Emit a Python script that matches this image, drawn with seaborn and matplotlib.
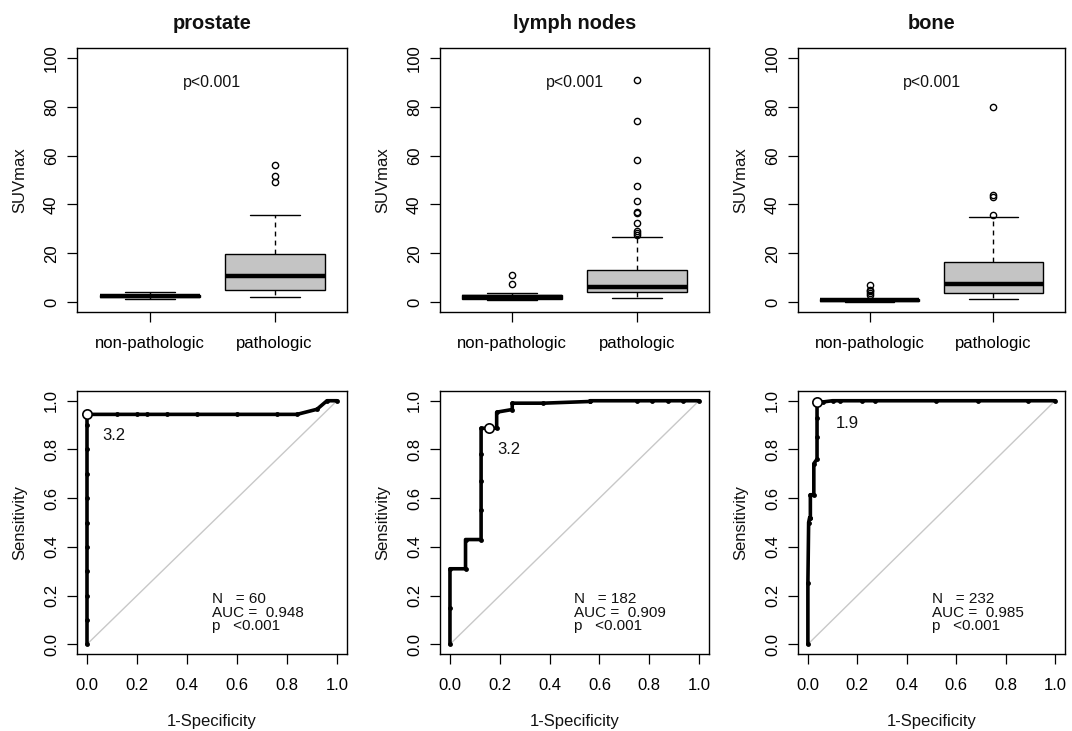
import numpy as np
import pandas as pd
import matplotlib
matplotlib.use("Agg")
import matplotlib.pyplot as plt
import seaborn as sns

# ---------------- data ----------------
sites = ["prostate", "lymph nodes", "bone"]
groups = ["non-pathologic", "pathologic"]

# SUVmax samples (representative values)
prostate_nonpath = [1.5, 1.7, 1.8, 1.9, 2.0, 2.2, 2.3, 2.4, 2.5, 2.6, 2.7, 2.8, 3.0, 3.1, 3.2, 3.3, 4.3]
prostate_path = [2.0, 3.0, 3.8, 4.5, 5.0, 6.5, 7.5, 9.0, 10.8, 12.0, 14.0, 17.0, 19.6, 35.7, 49.0, 51.5, 56.0]
lymph_nonpath = [0.8, 1.0, 1.2, 1.3, 1.4, 1.6, 1.7, 1.8, 2.0, 2.1, 2.3, 2.5, 2.8, 3.2, 3.6, 7.5, 11.2]
lymph_path = [1.9, 2.0, 2.2, 2.4, 2.6, 2.8, 3.0, 3.2, 3.4, 3.5, 3.7, 3.9, 4.0,
              4.2, 4.4, 4.6, 4.8, 5.0, 5.2, 5.4, 5.6, 5.8, 6.0, 6.2, 6.4,
              6.8, 7.2, 7.7, 8.2, 8.8, 9.4, 10.0, 10.8, 11.5, 12.2, 12.8, 13.2,
              26.6, 27.5, 28.2, 29.2, 32.6, 36.4, 37.1, 41.4, 47.5, 58.2, 74.1, 90.9]
bone_nonpath = [0.2, 0.3, 0.4, 0.45, 0.5, 0.55, 0.7, 0.8, 0.85, 0.9, 1.0, 1.05, 1.1, 1.2, 1.3, 1.5, 3.0, 3.7, 4.4, 5.2, 7.1]
bone_path = [1.4, 2.0, 2.6, 3.0, 3.4, 3.7, 4.5, 5.5, 6.3, 7.0, 7.5, 9.0, 11.0, 13.0, 15.0, 16.3, 34.7, 35.5, 43.2, 43.9, 80.0]

# ROC curves (1-specificity, sensitivity)
roc_prostate_fpr = [0.0, 0.0, 0.0, 0.0, 0.0, 0.0, 0.0, 0.0, 0.0, 0.0, 0.0,
                    0.12, 0.2, 0.24, 0.32, 0.44, 0.6, 0.76, 0.84, 0.92, 0.96, 1.0]
roc_prostate_tpr = [0.0, 0.1, 0.2, 0.3, 0.4, 0.5, 0.6, 0.7, 0.8, 0.9, 0.944,
                    0.944, 0.944, 0.944, 0.944, 0.944, 0.944, 0.944, 0.944, 0.965, 1.0, 1.0]
roc_lymph_fpr = [0.0, 0.0, 0.0, 0.0625, 0.0625, 0.125, 0.125, 0.125, 0.125, 0.125, 0.1875,
                 0.1875, 0.25, 0.25, 0.375, 0.5625, 0.5625, 0.75, 0.8125, 0.875, 0.9375, 1.0]
roc_lymph_tpr = [0.0, 0.15, 0.31, 0.31, 0.43, 0.43, 0.55, 0.67, 0.78, 0.887, 0.887,
                 0.953, 0.964, 0.99, 0.99, 0.997, 1.0, 1.0, 1.0, 1.0, 1.0, 1.0]
roc_bone_fpr = [0.0, 0.0, 0.003, 0.007, 0.01, 0.01, 0.024, 0.024, 0.037, 0.037, 0.037,
                0.037, 0.06, 0.1, 0.13, 0.22, 0.27, 0.52, 0.69, 0.89, 1.0]
roc_bone_tpr = [0.0, 0.25, 0.5, 0.52, 0.52, 0.614, 0.614, 0.742, 0.76, 0.85, 0.93,
                0.995, 0.995, 1.0, 1.0, 1.0, 1.0, 1.0, 1.0, 1.0, 1.0]

# optimal cut-off points
opt_fpr = [0.0, 0.155, 0.037]
opt_tpr = [0.944, 0.887, 0.995]
opt_labels = ["3.2", "3.2", "1.9"]

n_values = [60, 182, 232]
auc_values = [0.948, 0.909, 0.985]
p_label = "p<0.001"

box_data = [(prostate_nonpath, prostate_path),
            (lymph_nonpath, lymph_path),
            (bone_nonpath, bone_path)]
roc_data = [(roc_prostate_fpr, roc_prostate_tpr),
            (roc_lymph_fpr, roc_lymph_tpr),
            (roc_bone_fpr, roc_bone_tpr)]

# ---------------- style ----------------
sns.set_style("ticks")
plt.rcParams["font.family"] = ["Liberation Sans", "DejaVu Sans"]
plt.rcParams.update({
    "axes.edgecolor": "black",
    "axes.linewidth": 1.0,
    "xtick.color": "black",
    "ytick.color": "black",
    "xtick.major.size": 7,
    "ytick.major.size": 7,
    "xtick.major.width": 0.9,
    "ytick.major.width": 0.9,
    "xtick.major.pad": 10.5,
    "ytick.major.pad": 6,
    "xtick.labelsize": 12,
    "ytick.labelsize": 12,
    "axes.labelsize": 12,
    "text.color": "#111111",
    "axes.labelcolor": "#111111",
})

fig = plt.figure(figsize=(10.72, 7.31), dpi=100)

col_left = [77, 440, 798]
col_width = [270, 269, 267]
W, H = 1072, 731
top_axes = []
bot_axes = []
for i in range(3):
    l = col_left[i] / W
    w = col_width[i] / W
    top_axes.append(fig.add_axes([l, 1 - 312 / H, w, 264 / H]))
    bot_axes.append(fig.add_axes([l, 1 - 654 / H, w, 263 / H]))

# ---------------- box plots ----------------
for i, ax in enumerate(top_axes):
    nonpath, path = box_data[i]
    df = pd.DataFrame({
        "group": [groups[0]] * len(nonpath) + [groups[1]] * len(path),
        "SUVmax": list(nonpath) + list(path),
    })
    sns.boxplot(data=df, x="group", y="SUVmax", order=groups, ax=ax,
                color="#c4c4c4", width=0.8, linewidth=1.0, linecolor="black",
                whis=1.5, saturation=1,
                capwidths=0.4,
                medianprops=dict(linewidth=3.2, color="black"),
                whiskerprops=dict(linestyle=(0, (3.5, 3)), linewidth=1.0),
                capprops=dict(linewidth=1.0),
                flierprops=dict(marker="o", markerfacecolor="none",
                                markeredgecolor="black", markersize=4.5,
                                markeredgewidth=1.0))
    ax.set_xlim(-0.58, 1.58)
    ax.set_ylim(-4, 104)
    ax.set_yticks([0, 20, 40, 60, 80, 100])
    ax.set_yticklabels(["0", "20", "40", "60", "80", "100"], rotation=90, va="center")
    ax.set_xlabel("")
    ax.set_ylabel("SUVmax", labelpad=12)
    ax.set_title(sites[i], fontsize=14.4, fontweight="bold", pad=14)
    ax.text(0.5, 90, p_label, ha="center", va="center", fontsize=11.5)
    for s in ax.spines.values():
        s.set_visible(True)

# ---------------- ROC curves ----------------
for i, ax in enumerate(bot_axes):
    fpr, tpr = roc_data[i]
    sns.lineplot(x=[0, 1], y=[0, 1], ax=ax, color="#c8c8c8", linewidth=1.0)
    sns.lineplot(x=fpr, y=tpr, ax=ax, sort=False, estimator=None,
                 color="black", linewidth=2.6, marker="o", markersize=3.5,
                 markeredgewidth=0)
    sns.scatterplot(x=[opt_fpr[i]], y=[opt_tpr[i]], ax=ax, s=45,
                    facecolor="white", edgecolor="black", linewidth=1.2, zorder=5)
    lab_pos = [(0.063, 0.857), (0.19, 0.80), (0.112, 0.906)][i]
    ax.text(lab_pos[0], lab_pos[1], opt_labels[i], ha="left", va="center", fontsize=12)
    txt = "N   = %d\nAUC =  %.3f\np   <0.001" % (n_values[i], auc_values[i])
    ax.text(0.50, 0.13, txt, ha="left", va="center", fontsize=11, linespacing=0.95)
    ax.set_xlim(-0.04, 1.04)
    ax.set_ylim(-0.04, 1.04)
    ticks = [0.0, 0.2, 0.4, 0.6, 0.8, 1.0]
    tl = ["0.0", "0.2", "0.4", "0.6", "0.8", "1.0"]
    ax.set_xticks(ticks)
    ax.set_xticklabels(tl)
    ax.set_yticks(ticks)
    ax.set_yticklabels(tl, rotation=90, va="center")
    ax.set_xlabel("1-Specificity", labelpad=15)
    ax.set_ylabel("Sensitivity", labelpad=12)
    for s in ax.spines.values():
        s.set_visible(True)

fig.savefig("out.png", dpi=100, facecolor="white")
